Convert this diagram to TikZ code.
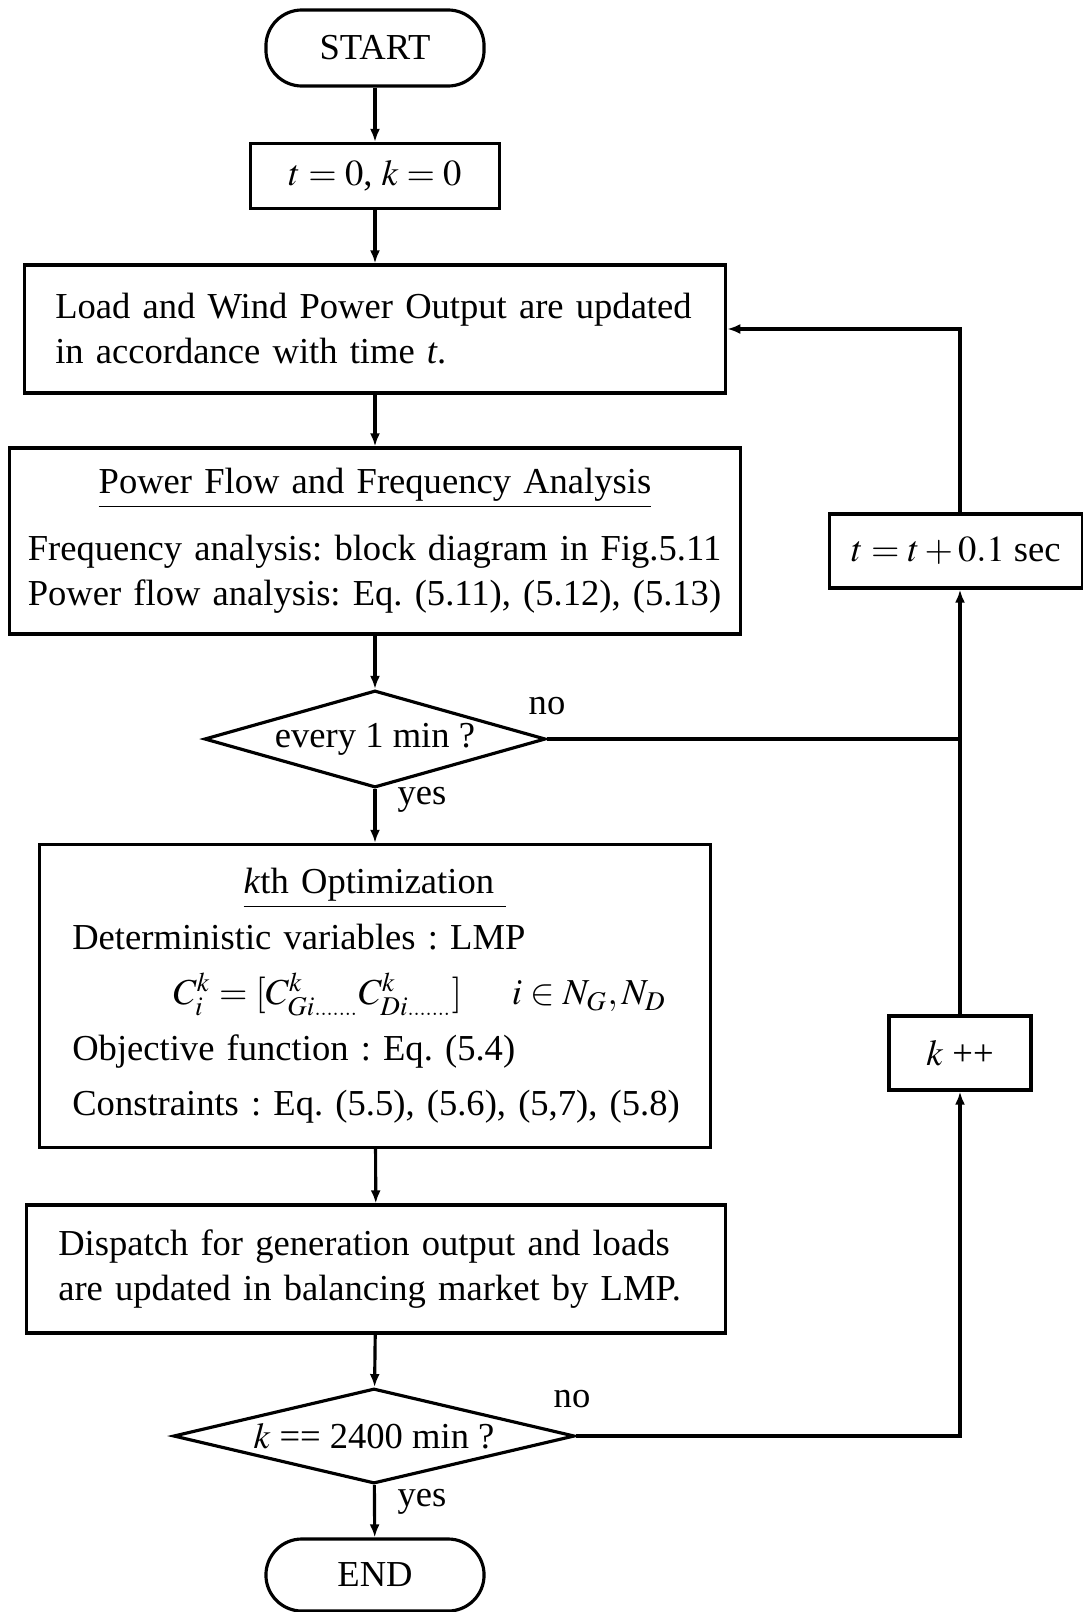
\documentclass[tikz,border=0pt]{standalone}
\usepackage{mathptmx}
\usepackage{fontspec}
\setmainfont{Liberation Serif}
\usetikzlibrary{positioning,shapes.geometric,arrows.meta}
\newcommand{\flowfont}{\fontsize{10.4}{12.8}\selectfont\frenchspacing}
\newcommand{\tinydots}{{\scriptscriptstyle .......}}

\begin{document}
\begin{tikzpicture}[
    x=0.01cm, y=-0.01cm,
    line/.style={line width=0.9pt},
    arrow/.style={line, -{Latex[length=0.13cm,width=0.1cm]}},
    box/.style={draw, rectangle, line, inner ysep=0pt, font=\flowfont},
    term/.style={draw, rectangle, line, rounded corners=0.36cm, font=\flowfont, minimum width=2.18cm},
    decision/.style={draw, diamond, line, inner sep=0pt, font=\flowfont},
    lbl/.style={font=\flowfont, inner sep=0pt}
]
\useasboundingbox (0,0) rectangle (1083,1612);

% Main column
\node[term, minimum height=0.76cm] (start) at (375,48) {START};
\node[box, minimum width=2.49cm, minimum height=0.65cm] (init) at (375,176) {$t = 0$, $k = 0$};
\node[box, minimum width=7.01cm, minimum height=1.28cm, text width=6.39cm, inner xsep=0.31cm, align=left] (load) at (375,329)
    {\mbox{Load and Wind Power Output are updated}\\in accordance with time \textit{t}.};
\node[box, minimum width=7.30cm, minimum height=1.86cm, text width=6.94cm, inner xsep=0.18cm] (flow) at (375,541)
    {{\centering\underline{Power Flow and Frequency Analysis}\par}\vspace{0.22cm}
     \raggedright \mbox{Frequency analysis: block diagram in Fig.5.11}\\
     \mbox{Power flow analysis: Eq. (5.11), (5.12), (5.13)}};
\node[decision, aspect=3.5, minimum width=3.41cm, minimum height=0.97cm] (every) at (375,739) {every 1 min ?};
\node[box, minimum width=6.71cm, minimum height=3.03cm, text width=6.05cm, inner xsep=0.33cm,
      font={\fontsize{10.4}{15.8}\selectfont\frenchspacing}] (opt) at (375,996)
    {{\centering\underline{\textit{k}th Optimization\ }\par}
     \raggedright Deterministic variables : LMP\\
     \mbox{\hspace*{1.01cm}$C_i^k =[C^k_{Gi\tinydots}C^k_{Di\tinydots}]$\hspace{0.5cm}$i\in N_G, N_D$}\\
     Objective function : Eq. (5.4)\\
     \mbox{Constraints : Eq. (5.5), (5.6), (5,7), (5.8)}};
\node[box, minimum width=6.99cm, minimum height=1.28cm, text width=6.35cm, inner xsep=0.32cm, align=left] (dispatch) at (376,1269)
    {\mbox{Dispatch for generation output and loads}\\\mbox{are updated in balancing market by LMP.}};
\node[decision, aspect=4.2, minimum width=4.01cm, minimum height=0.95cm] (last) at (374,1436) {$k$ == 2400 min ?};
\node[term, minimum height=0.72cm] (end) at (375,1575) {END};

% Loop column
\node[box, minimum width=2.53cm, minimum height=0.74cm] (tstep) at (956,551) {$t = t + 0.1$ sec};
\node[box, minimum width=1.42cm, minimum height=0.74cm] (kinc) at (960,1053) {$k$ ++};
\coordinate (join) at (960,739);

% Labels
\node[lbl] (no1) at (547,706) {no};
\node[lbl] (yes1) at (422,800) {yes};
\node[lbl] (no2) at (572,1399) {no};
\node[lbl] (yes2) at (422,1502) {yes};

% Connectors
\draw[arrow] (start) -- (init);
\draw[arrow] (init) -- (load);
\draw[arrow] (load) -- (flow);
\draw[arrow] (flow) -- (every);
\draw[arrow] (every) -- (opt);
\draw[arrow] (opt) -- (dispatch);
\draw[arrow] (dispatch) -- (last);
\draw[arrow] (last) -- (end);
\draw[line] (every.east) -- (join);
\draw[arrow] (last.east) -| (kinc.south);
\draw[arrow] (kinc.north) -- (kinc.north |- tstep.south);
\draw[arrow] (kinc.north |- tstep.north) |- (load.east);

\end{tikzpicture}
\end{document}
